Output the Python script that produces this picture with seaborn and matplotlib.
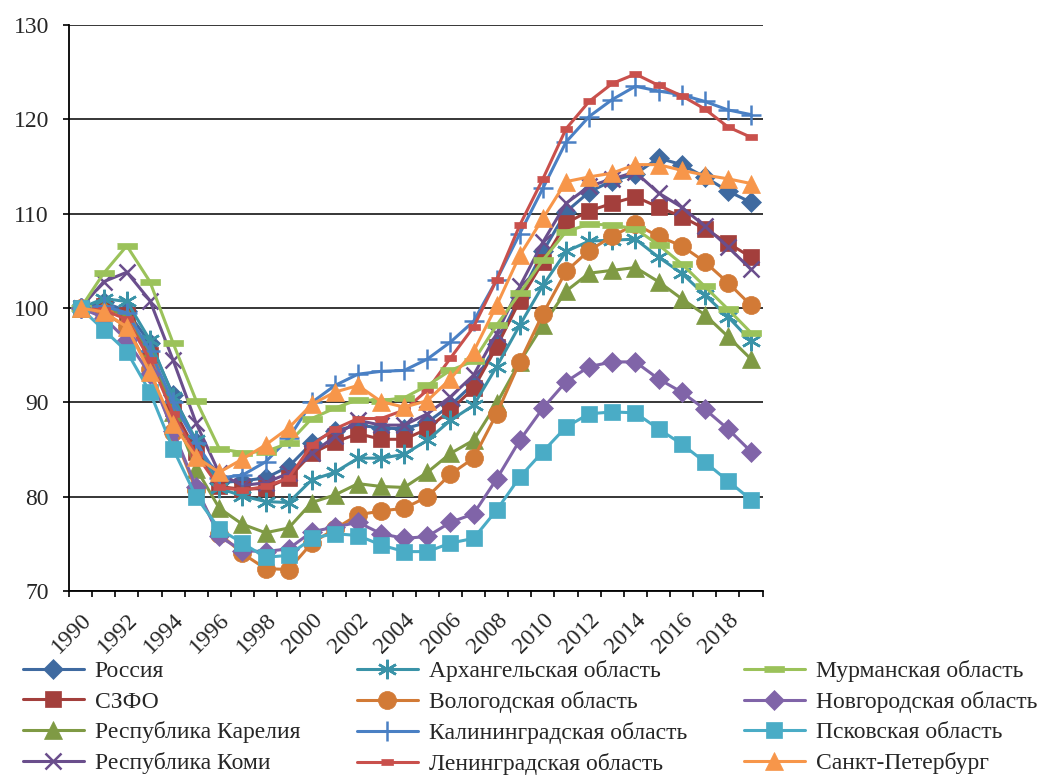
import numpy as np
import pandas as pd
import matplotlib
matplotlib.use("Agg")
import matplotlib.pyplot as plt
import seaborn as sns
from matplotlib.ticker import MultipleLocator

sns.set_theme(style="white")
plt.rcParams["font.family"] = ["Liberation Serif", "DejaVu Serif"]

years = list(range(1990, 2020))

russia = [100, 100.6, 99.7, 96.3, 90.8, 85.8, 81.5, 81.7, 82.0, 83.2, 85.7, 87.0, 87.6, 87.3, 87.2,
          87.9, 89.7, 92.0, 96.2, 101.2, 106.0, 110.2, 112.3, 113.5, 114.2, 115.9, 115.2, 113.9, 112.4, 111.2]
szfo = [100, 100.2, 99.3, 95.0, 89.4, 84.8, 81.1, 80.8, 80.9, 82.0, 84.6, 85.8, 86.7, 86.1, 86.1,
        87.2, 89.2, 91.5, 95.9, 100.8, 104.9, 109.0, 110.3, 111.1, 111.8, 110.7, 109.7, 108.4, 106.9, 105.4]
karelia = [100, 100.0, 99.2, 95.3, 89.0, 83.0, 78.8, 77.1, 76.2, 76.7, 79.4, 80.2, 81.4, 81.1, 81.0,
           82.6, 84.6, 86.0, 89.9, 94.3, 98.2, 101.8, 103.7, 104.0, 104.3, 102.8, 101.0, 99.3, 97.0, 94.6]
komi = [100, 102.8, 103.8, 100.8, 94.5, 87.8, 82.5, 81.2, 81.5, 82.5, 84.6, 86.4, 88.1, 87.6, 87.6,
        88.8, 90.6, 92.9, 97.3, 102.3, 107.0, 111.1, 112.9, 113.7, 114.4, 112.2, 110.7, 108.7, 106.5, 104.1]
arkh = [100, 101.0, 100.7, 96.6, 90.6, 86.0, 80.9, 80.1, 79.5, 79.4, 81.8, 82.6, 84.1, 84.1, 84.5,
        86.0, 88.1, 89.7, 93.8, 98.2, 102.4, 106.0, 107.1, 107.2, 107.3, 105.4, 103.7, 101.4, 99.1, 96.5]
vologda = [100, 99.5, 98.0, 93.5, 86.9, 80.7, 76.1, 74.0, 72.4, 72.3, 75.1, 76.6, 78.1, 78.5, 78.8,
           80.0, 82.4, 84.1, 88.8, 94.3, 99.4, 103.9, 106.1, 107.6, 108.9, 107.6, 106.6, 104.9, 102.7, 100.3]
kalin = [100, 100.2, 99.5, 95.5, 90.0, 85.7, 82.0, 82.3, 83.7, 86.2, 90.0, 91.8, 93.0, 93.3, 93.4,
         94.6, 96.4, 98.6, 103.0, 107.9, 112.7, 117.6, 120.3, 122.1, 123.5, 123.0, 122.6, 121.9, 121.0, 120.5]
lenin = [100, 99.8, 98.8, 94.5, 88.8, 84.5, 81.0, 80.7, 81.1, 82.0, 85.5, 87.2, 88.3, 88.3, 89.2,
         91.3, 94.7, 98.0, 103.0, 108.8, 113.7, 119.0, 121.9, 123.8, 124.8, 123.6, 122.5, 121.1, 119.2, 118.1]
murmansk = [100, 103.7, 106.6, 102.8, 96.3, 90.2, 85.1, 84.7, 84.8, 85.7, 88.3, 89.4, 90.3, 90.2, 90.5,
            91.8, 93.4, 94.4, 98.2, 101.6, 105.1, 108.1, 108.9, 108.8, 108.4, 106.7, 104.7, 102.3, 99.9, 97.4]
novgorod = [100, 99.0, 96.6, 93.0, 87.0, 81.0, 75.8, 74.3, 74.2, 74.5, 76.3, 76.8, 77.3, 76.1, 75.6,
            75.8, 77.3, 78.2, 81.9, 86.0, 89.4, 92.2, 93.8, 94.3, 94.3, 92.5, 91.1, 89.3, 87.2, 84.8]
pskov = [100, 97.7, 95.4, 91.1, 85.1, 80.0, 76.6, 75.1, 73.6, 73.8, 75.6, 76.1, 75.9, 74.9, 74.2,
         74.2, 75.1, 75.6, 78.6, 82.1, 84.8, 87.4, 88.8, 89.0, 88.9, 87.2, 85.6, 83.7, 81.7, 79.7]
spb = [100, 99.6, 98.0, 93.2, 87.7, 84.2, 82.6, 84.0, 85.5, 87.3, 89.8, 91.1, 91.8, 90.1, 89.5,
       90.2, 92.5, 95.4, 100.3, 105.6, 109.5, 113.4, 113.9, 114.3, 115.2, 115.2, 114.6, 114.1, 113.7, 113.2]

dash_short = [(-1, -0.45), (1, -0.45), (1, 0.45), (-1, 0.45)]
dash_long = [(-1, -0.3), (1, -0.3), (1, 0.3), (-1, 0.3)]

# name, values, color, marker, markersize
series = [
    ("Россия", russia, "#3F6AA0", "D", 10),
    ("СЗФО", szfo, "#A33F3C", "s", 12),
    ("Республика Карелия", karelia, "#7F9A44", "^", 13),
    ("Республика Коми", komi, "#6A4E8C", "x", 12),
    ("Архангельская область", arkh, "#3A93A8", (6, 2, 0), 14),
    ("Вологодская область", vologda, "#D27A36", "o", 13),
    ("Калининградская область", kalin, "#4A80C4", "+", 15),
    ("Ленинградская область", lenin, "#C9504C", dash_short, 9),
    ("Мурманская область", murmansk, "#9BC25A", dash_long, 14),
    ("Новгородская область", novgorod, "#8064A8", "D", 10),
    ("Псковская область", pskov, "#4AACC6", "s", 12),
    ("Санкт-Петербург", spb, "#F7964A", "^", 13),
]

fig = plt.figure(figsize=(10.46, 7.8), dpi=100)
ax = fig.add_axes([0.066, 0.242, 0.663, 0.726])

for name, vals, color, marker, ms in series:
    thin = marker in ("x", "+") or isinstance(marker, tuple)
    sns.lineplot(x=years, y=vals, ax=ax, color=color, marker=marker, markersize=ms,
                 linewidth=2.2, markeredgewidth=1.8 if thin else 0.5,
                 markeredgecolor=color, label=name)

ax.set_xlim(1989.5, 2019.5)
ax.set_ylim(70, 130)
ax.yaxis.set_major_locator(MultipleLocator(10))
ax.grid(axis="y", color="black", linewidth=1.1)
ax.set_axisbelow(True)

ax.set_xticks(np.arange(1990, 2020, 2))
ax.set_xticklabels([str(y) for y in range(1990, 2020, 2)], rotation=45, ha="right",
                   rotation_mode="anchor", fontsize=17)
ax.set_xticks(np.arange(1989.5, 2020, 1), minor=True)
ax.tick_params(axis="x", which="major", length=0, pad=13)
ax.tick_params(axis="x", which="minor", length=4.5, width=1.2, color="black", direction="out", bottom=True)
ax.tick_params(axis="y", length=4.5, width=1.2, color="black", direction="out", left=True,
               labelsize=17, pad=10)

for s in ["top", "right"]:
    ax.spines[s].set_visible(False)
for s in ["left", "bottom"]:
    ax.spines[s].set_color("black")
    ax.spines[s].set_linewidth(1.3)

ax.set_xlabel("")
ax.set_ylabel("")
handles, labels = ax.get_legend_handles_labels()
ax.get_legend().remove()
fig.legend(handles, labels, loc="upper left", bbox_to_anchor=(0.008, 0.172), ncol=3,
           frameon=False, fontsize=17, handlelength=2.6, columnspacing=2.4,
           labelspacing=0.38, handletextpad=0.45, borderaxespad=0.2)

fig.savefig("out.png", dpi=100)
